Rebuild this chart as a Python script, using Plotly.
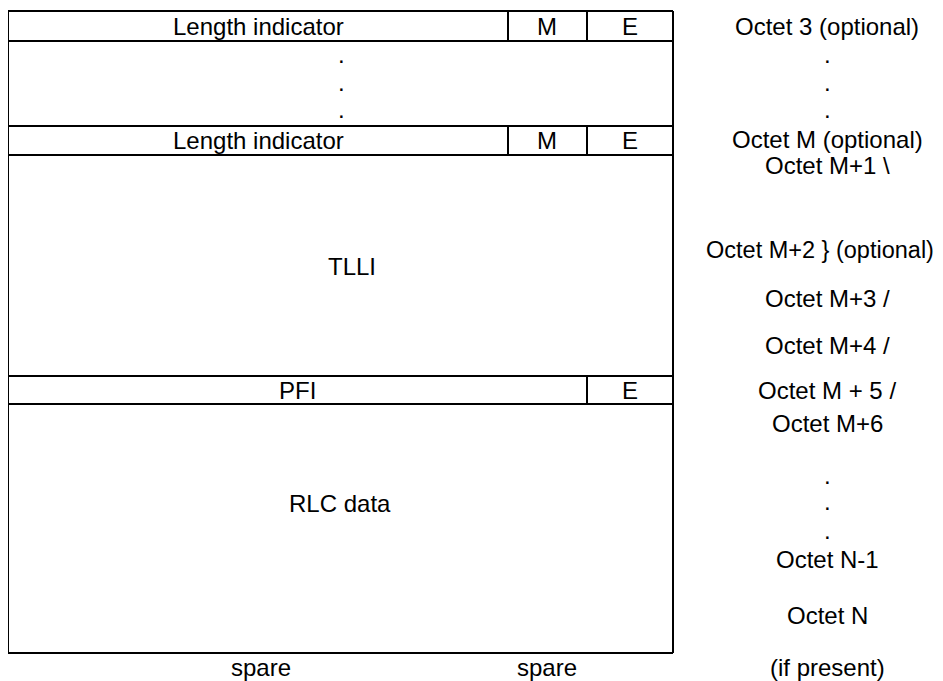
import plotly.graph_objects as go

# Frame geometry (diagram units = pixels of the reference)
box_left, box_right = 8, 673
col_m, col_e = 508, 587
h_lines = [11, 41, 126, 155, 376, 404, 653]
# vertical dividers: (x, y0, y1)
v_lines = [
    (box_left, 11, 653), (box_right, 11, 653),
    (col_m, 11, 41), (col_e, 11, 41),
    (col_m, 126, 155), (col_e, 126, 155),
    (col_e, 376, 404),
]

# Labels inside the frame
box_labels = ["Length indicator", "M", "E", ".", ".", ".",
              "Length indicator", "M", "E", "TLLI", "PFI", "E", "RLC data"]
box_x = [258, 547, 630, 341, 341, 341, 258, 547, 630, 352, 297, 630, 340]
box_y = [26, 26, 26, 54, 82, 109, 140, 140, 140, 266, 390, 390, 503]

# Octet column on the right
octet_labels = ["Octet 3 (optional)", ".", ".", ".", "Octet M (optional)",
                "Octet M+1 \\", "Octet M+2 } (optional)", "Octet M+3 /",
                "Octet M+4 /", "Octet M + 5 /", "Octet M+6", ".", ".", ".",
                "Octet N-1", "Octet N", "(if present)"]
octet_x = [827, 827, 827, 827, 827, 827, 820, 827, 827, 827, 827,
           827, 827, 827, 827, 827, 827]
octet_y = [26, 54, 82, 109, 139, 165, 250, 298, 345, 390, 423,
           475, 501, 530, 559, 615, 667]
octet_size = [24, 24, 24, 24, 24, 24, 23.5, 24, 24, 24, 24,
              24, 24, 24, 24, 24, 24]

# Labels below the frame
bottom_labels = ["spare", "spare"]
bottom_x = [261, 547]
bottom_y = [667, 667]

FAMILY = "Liberation Sans, Arial, sans-serif"
FONT = dict(family=FAMILY, size=24, color="black")
LINE = dict(color="black", width=2)

# the page body has an 8px margin, so the plot area starts at (8, 8)
OFF = 8

fig = go.Figure()
fig.add_trace(go.Scatter(x=[OFF, 943 + OFF], y=[OFF, 681 + OFF], mode="markers",
                         marker=dict(opacity=0), hoverinfo="skip", showlegend=False))

for y in h_lines:
    fig.add_shape(type="line", x0=box_left, x1=box_right, y0=y, y1=y,
                  xref="x", yref="y", line=LINE)
for x, y0, y1 in v_lines:
    fig.add_shape(type="line", x0=x, x1=x, y0=y0, y1=y1,
                  xref="x", yref="y", line=LINE)

for t, x, y in zip(box_labels, box_x, box_y):
    fig.add_annotation(x=x, y=y, text=t, showarrow=False, font=FONT,
                       xanchor="center", yanchor="middle")
for t, x, y, s in zip(octet_labels, octet_x, octet_y, octet_size):
    fig.add_annotation(x=x, y=y, text=t, showarrow=False,
                       font=dict(family=FAMILY, size=s, color="black"),
                       xanchor="center", yanchor="middle")
for t, x, y in zip(bottom_labels, bottom_x, bottom_y):
    fig.add_annotation(x=x, y=y, text=t, showarrow=False, font=FONT,
                       xanchor="center", yanchor="middle")

fig.update_layout(
    width=943, height=681,
    margin=dict(l=0, r=0, t=0, b=0),
    paper_bgcolor="white", plot_bgcolor="white",
    xaxis=dict(range=[OFF, 943 + OFF], visible=False, fixedrange=True),
    yaxis=dict(range=[681 + OFF, OFF], visible=False, fixedrange=True),
    showlegend=False,
)

fig.write_html("out.html", config={"displayModeBar": False})
